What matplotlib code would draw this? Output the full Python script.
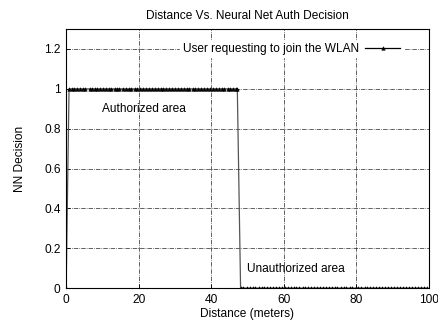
from matplotlib import pyplot as plt

plt.rcParams['font.family'] = ['Liberation Sans', 'DejaVu Sans']

# measured distance (m) and NN decision of each request
dist = [0.0, 0.8, 1.5, 2.3, 2.9, 3.8, 4.6, 5.2, 6.5, 7.1, 7.9, 8.6, 9.4, 10.3, 11.0,
        11.8, 12.5, 13.4, 14.1, 14.7, 15.6, 16.5, 17.2, 18.0, 18.9, 19.5, 20.4,
        21.3, 22.0, 22.8, 23.7, 24.4, 25.3, 26.1, 26.8, 27.6, 28.5, 29.2, 30.1,
        30.9, 31.6, 32.4, 33.3, 34.0, 34.9, 35.6, 36.4, 37.3, 38.0, 38.8, 39.7,
        40.4, 41.2, 42.1, 42.9, 43.6, 44.5, 45.3, 46.1, 46.8, 47.2,
        48.1, 48.9, 49.8, 50.6, 51.5, 52.2, 53.1, 53.9, 54.6, 55.5, 56.3, 57.0,
        57.9, 58.7, 59.4, 60.3, 61.1, 61.9, 62.8, 63.5, 64.3, 65.2, 65.9, 66.8,
        67.6, 68.3, 69.2, 70.0, 70.9, 71.6, 72.4, 73.3, 74.1, 74.8, 75.7, 76.5,
        77.3, 78.2, 78.9, 79.8, 80.6, 81.4, 82.3, 83.0, 83.9, 84.7, 85.4, 86.3,
        87.1, 87.9, 88.8, 89.5, 90.4, 91.2, 92.0, 92.9, 93.6, 94.5, 95.3, 96.1,
        96.9, 97.8, 98.6, 99.4]
decision = [0,
            1, 1, 1, 1, 1, 1, 1, 1, 1, 1, 1, 1, 1, 1, 1, 1, 1, 1, 1, 1,
            1, 1, 1, 1, 1, 1, 1, 1, 1, 1, 1, 1, 1, 1, 1, 1, 1, 1, 1, 1,
            1, 1, 1, 1, 1, 1, 1, 1, 1, 1, 1, 1, 1, 1, 1, 1, 1, 1, 1, 1,
            0, 0, 0, 0, 0, 0, 0, 0, 0, 0, 0, 0, 0, 0, 0, 0, 0, 0, 0, 0,
            0, 0, 0, 0, 0, 0, 0, 0, 0, 0, 0, 0, 0, 0, 0, 0, 0, 0, 0, 0,
            0, 0, 0, 0, 0, 0, 0, 0, 0, 0, 0, 0, 0, 0, 0, 0, 0, 0, 0, 0,
            0, 0, 0, 0]
xticks = [0, 20, 40, 60, 80, 100]
yticks = [0, 0.2, 0.4, 0.6, 0.8, 1, 1.2]
ytick_labels = ['0', '0.2', '0.4', '0.6', '0.8', '1', '1.2']

fs = 8.6

fig = plt.figure(figsize=(4.38, 3.23), dpi=100)
ax = fig.add_axes([0.151, 0.108, 0.828, 0.802])

ax.plot(dist, decision, color='#555555', linewidth=0.9, marker='^', markersize=2.5,
        markerfacecolor='black', markeredgecolor='black', markeredgewidth=0.4,
        label='User requesting to join the WLAN')

ax.set_xlim(0, 100)
ax.set_ylim(0, 1.3)
ax.set_xticks(xticks)
ax.set_yticks(yticks)
ax.set_yticklabels(ytick_labels)
ax.tick_params(direction='in', length=3, width=0.6, labelsize=fs, colors='black', pad=4)
ax.grid(True, color='#222222', linestyle='-.', linewidth=0.5)
for s in ax.spines.values():
    s.set_linewidth(0.8)

ax.text(10, 0.90, 'Authorized area', fontsize=fs, va='center', ha='left')
ax.text(49.8, 0.095, 'Unauthorized area', fontsize=fs, va='center', ha='left')

ax.set_title('Distance Vs. Neural Net Auth Decision', fontsize=fs, pad=7)
ax.set_xlabel('Distance (meters)', fontsize=fs, labelpad=2)
ax.set_ylabel('NN Decision', fontsize=fs, labelpad=13)

leg = ax.legend(loc='center right', bbox_to_anchor=(94.5, 1.2), bbox_transform=ax.transData,
                fontsize=fs, markerfirst=False, numpoints=1, handlelength=3,
                frameon=True, fancybox=False, framealpha=1, borderpad=0.2,
                handletextpad=0.5)
leg.get_frame().set_edgecolor('white')
leg.get_frame().set_facecolor('white')
leg.get_lines()[0].set_color('black')

plt.savefig('out.png', dpi=100)
